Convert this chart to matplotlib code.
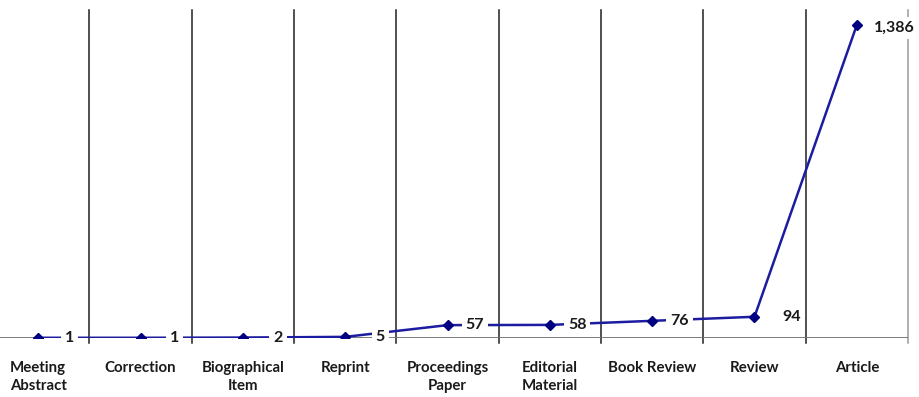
import numpy as np
import matplotlib.pyplot as plt

categories = ['Meeting\nAbstract', 'Correction', 'Biographical\nItem', 'Reprint',
              'Proceedings\nPaper', 'Editorial\nMaterial', 'Book Review', 'Review', 'Article']
counts = [1, 1, 2, 5, 57, 58, 76, 94, 1386]
count_labels = ['1', '1', '2', '5', '57', '58', '76', '94', '1,386']

# horizontal gap (points) between each marker and its value label
label_gap = [19, 21, 22, 22, 13, 13, 13, 20, 12]

plt.rcParams['font.family'] = ['Lato', 'DejaVu Sans']

fig = plt.figure(figsize=(9.19, 3.97), dpi=100)
# plot area runs a little past the left edge of the canvas
ax = fig.add_axes([-13 / 919, (397 - 338) / 397, 921 / 919, 328 / 397])

x = np.arange(len(categories))
ax.set_xlim(-0.5, len(categories) - 0.5)
ax.set_ylim(0, 1452)

# category separators, with a short tick below the baseline
for b in np.arange(0.5, len(categories), 1.0):
    color = '#9a9a9a' if b == len(categories) - 0.5 else '#202020'
    ax.plot([b, b], [-22, 1452], color=color, lw=1.1, clip_on=False, zorder=1)
ax.plot([-0.5, len(categories) - 0.5], [0, 0], color='#6f6f6f', lw=1.3, zorder=1)

ax.plot(x, counts, color='#1c1ca0', lw=1.8, marker='D', ms=5.5,
        mfc='#000080', mec='#000080', zorder=3)

for xi, v, lab, gap in zip(x, counts, count_labels, label_gap):
    dy = -2 if lab == '1,386' else 0
    ax.annotate(lab, (xi, v), xytext=(gap, dy), textcoords='offset points',
                ha='left', va='center', fontsize=11.5, fontweight='bold', color='#1a1a1a',
                bbox=dict(boxstyle='square,pad=0.25', fc='white', ec='none'), zorder=4)

for xi, c in zip(x, categories):
    ax.annotate(c, (xi, 0), xytext=(0, -16.5), textcoords='offset points',
                ha='center', va='top', fontsize=10.8, fontweight='bold',
                color='#1a1a1a', linespacing=1.4)

ax.set_xticks([])
ax.set_yticks([])
for s in ax.spines.values():
    s.set_visible(False)

fig.savefig('out.png', dpi=100)
